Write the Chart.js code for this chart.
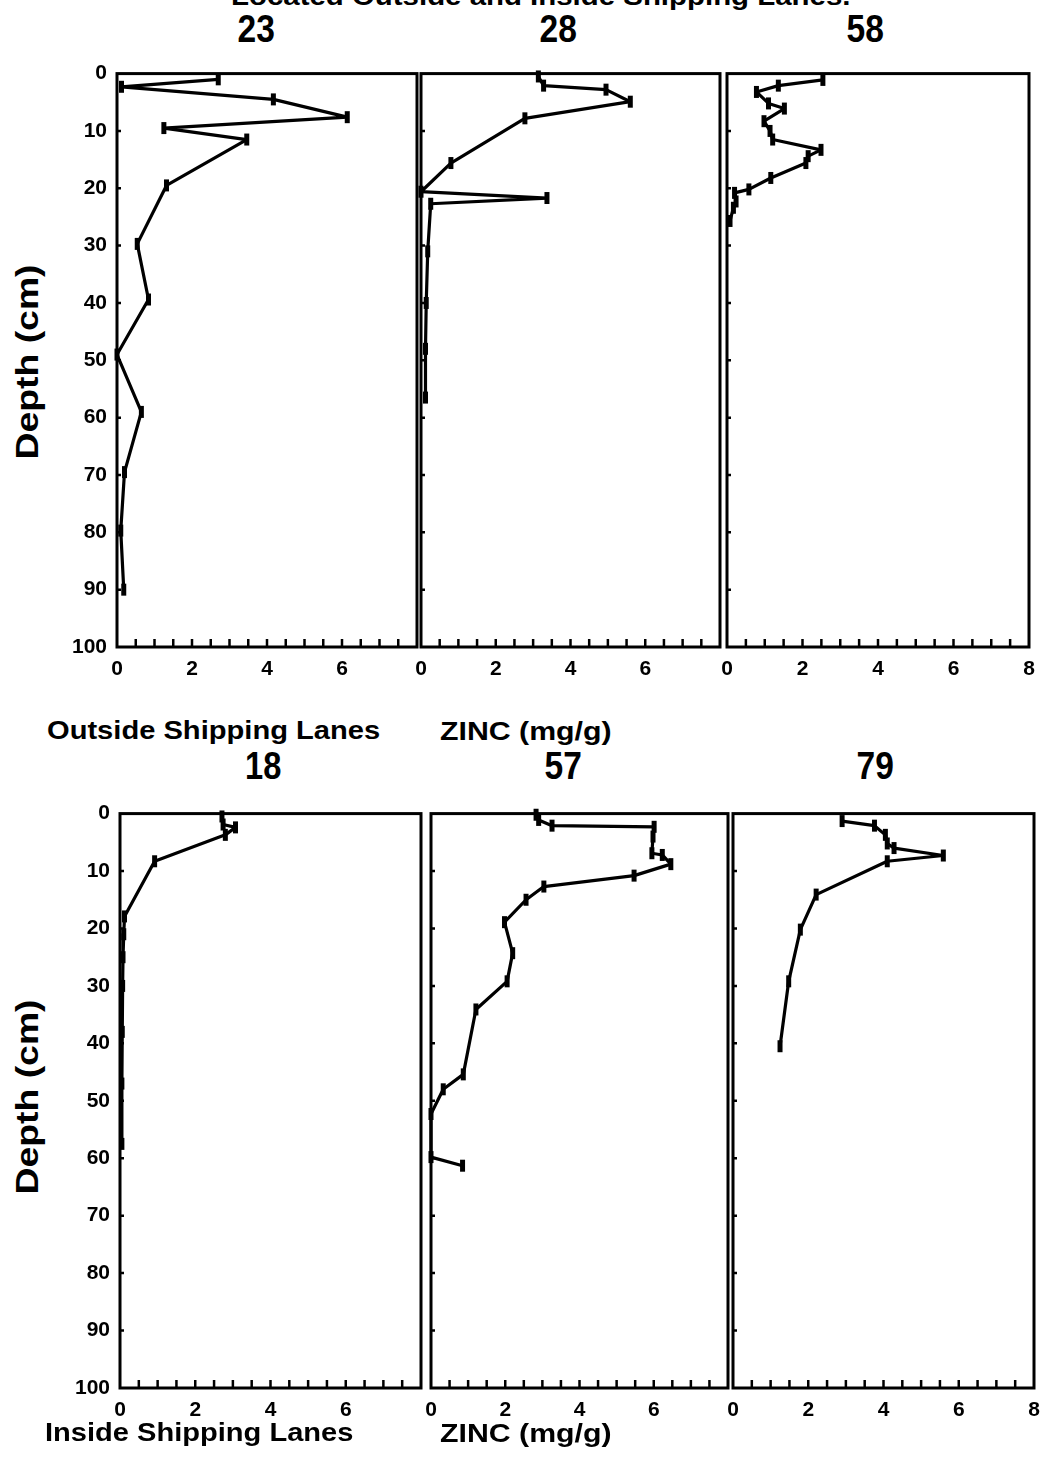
<!DOCTYPE html>
<html><head><meta charset="utf-8">
<script src="https://cdn.jsdelivr.net/npm/chart.js@4/dist/chart.umd.min.js"></script>
<style>
html,body{margin:0;padding:0;background:#fff;}
body{width:1046px;height:1458px;position:relative;overflow:hidden;font-family:"Liberation Sans",Arial,sans-serif;}
.c{position:absolute;}
.t{position:absolute;white-space:nowrap;color:#000;line-height:1;transform-origin:0 0;left:0;top:0;}
</style></head><body>
<script>
// ---- data (depth in cm, zinc in mg/g) ----
const depth23 = [1, 2.3, 4.5, 7.6, 9.5, 11.5, 19.5, 29.7, 39.4, 49, 59, 69.5, 79.7, 90];
const zinc23  = [2.7, 0.12, 4.17, 6.14, 1.25, 3.46, 1.32, 0.54, 0.84, 0, 0.65, 0.2, 0.1, 0.18];
const depth28 = [0.5, 2.1, 2.8, 4.9, 7.8, 15.6, 20.6, 21.7, 22.7, 31, 40, 48, 56.5];
const zinc28  = [3.14, 3.28, 4.95, 5.6, 2.78, 0.8, 0.0, 3.37, 0.26, 0.18, 0.14, 0.12, 0.12];
const depth58 = [1.1, 2.1, 3.2, 5.2, 6.1, 8.3, 10, 11.5, 13.3, 14.4, 15.6, 18.2, 20.2, 20.8, 22.3, 23.4, 25.7];
const zinc58  = [2.54, 1.36, 0.78, 1.10, 1.52, 0.98, 1.14, 1.21, 2.49, 2.15, 2.09, 1.16, 0.58, 0.2, 0.24, 0.17, 0.08];
const depth18 = [0.5, 1.9, 2.4, 3.7, 8.3, 17.9, 21, 25, 30, 38, 47, 57.5];
const zinc18  = [2.71, 2.74, 3.07, 2.8, 0.92, 0.12, 0.1, 0.08, 0.07, 0.06, 0.05, 0.05];
const depth57 = [0.2, 1.1, 2.1, 2.3, 4.0, 6.9, 7.2, 8.8, 10.8, 12.7, 15.0, 18.9, 24.3, 29.2, 34.1, 45.4, 48.0, 52.3, 59.8, 61.3];
const zinc57  = [2.83, 2.9, 3.26, 6.01, 5.98, 5.95, 6.23, 6.46, 5.47, 3.04, 2.56, 1.98, 2.2, 2.05, 1.21, 0.87, 0.33, 0, 0, 0.85];
const depth79 = [1.3, 2.1, 3.7, 5.2, 6.0, 7.3, 8.3, 14.1, 20.2, 29.2, 40.5];
const zinc79  = [2.90, 3.76, 4.05, 4.10, 4.28, 5.59, 4.10, 2.21, 1.79, 1.48, 1.25];
const stations = ['23', '28', '58', '18', '57', '79'];
const xLabelValues = [0, 2, 4, 6, 8];
const depthRange = [0, 100];
const zincRange = [0, 8];

// ---- layout ----
const panels = [
  {name: stations[0], d: depth23, z: zinc23, L: 117, R: 417, T: 71, B: 647, yLab: true, last: false},
  {name: stations[1], d: depth28, z: zinc28, L: 421, R: 720, T: 71, B: 647, yLab: false, last: false},
  {name: stations[2], d: depth58, z: zinc58, L: 727, R: 1029, T: 71, B: 647, yLab: false, last: true},
  {name: stations[3], d: depth18, z: zinc18, L: 120, R: 421, T: 811, B: 1388, yLab: true, last: false},
  {name: stations[4], d: depth57, z: zinc57, L: 431, R: 728, T: 811, B: 1388, yLab: false, last: false},
  {name: stations[5], d: depth79, z: zinc79, L: 733, R: 1034, T: 811, B: 1388, yLab: false, last: true}
];
const PADL = 62, PADR = 20, PADT = 20, PADB = 45;

const framePlugin = {
  id: 'frame',
  afterDatasetsDraw(chart) {
    const {ctx, chartArea: a, scales} = chart;
    ctx.save();
    ctx.strokeStyle = '#000';
    ctx.lineWidth = 3;
    ctx.strokeRect(a.left, a.top, a.right - a.left, a.bottom - a.top);
    ctx.lineWidth = 2.5;
    ctx.beginPath();
    scales.x.ticks.forEach(t => {
      if (t.value <= zincRange[0] || t.value >= zincRange[1]) return;
      const px = scales.x.getPixelForValue(t.value);
      ctx.moveTo(px, a.bottom);
      ctx.lineTo(px, a.bottom - 8);
    });
    scales.y.ticks.forEach(t => {
      if (t.value <= depthRange[0] || t.value >= depthRange[1]) return;
      const py = scales.y.getPixelForValue(t.value);
      ctx.moveTo(a.left, py);
      ctx.lineTo(a.left + 4, py);
    });
    ctx.stroke();
    ctx.restore();
  }
};

panels.forEach(p => {
  const div = document.createElement('div');
  div.className = 'c';
  const w = (p.R + PADR) - (p.L - PADL);
  const h = (p.B + PADB) - (p.T - PADT);
  div.style.left = (p.L - PADL) + 'px';
  div.style.top = (p.T - PADT) + 'px';
  div.style.width = w + 'px';
  div.style.height = h + 'px';
  const cv = document.createElement('canvas');
  div.appendChild(cv);
  document.body.appendChild(div);
  new Chart(cv, {
    type: 'scatter',
    data: {
      datasets: [{
        data: p.d.map((dd, i) => ({x: p.z[i], y: dd})),
        showLine: true,
        borderColor: '#000',
        borderWidth: 3.2,
        borderJoinStyle: 'round',
        borderCapStyle: 'round',
        pointStyle: 'line',
        rotation: 90,
        radius: 6,
        pointBorderWidth: 5,
        pointBackgroundColor: '#000',
        pointBorderColor: '#000',
        clip: false
      }]
    },
    options: {
      responsive: true,
      maintainAspectRatio: false,
      animation: false,
      events: [],
      layout: {padding: {left: 0, right: PADR, top: PADT, bottom: 0}},
      plugins: {legend: {display: false}, tooltip: {enabled: false}},
      scales: {
        x: {
          type: 'linear', min: zincRange[0], max: zincRange[1],
          grid: {display: false, drawTicks: false},
          border: {display: false},
          afterFit(s) { s.height = PADB; },
          ticks: {
            stepSize: 0.5, autoSkip: false, maxRotation: 0, padding: 10,
            color: '#000', font: {family: 'Liberation Sans', size: 21, weight: 'bold'},
            callback: v => (xLabelValues.includes(v) && (v !== 8 || p.last)) ? String(v) : ''
          }
        },
        y: {
          type: 'linear', min: depthRange[0], max: depthRange[1], reverse: true,
          grid: {display: false, drawTicks: false},
          border: {display: false},
          afterFit(s) { s.width = PADL; },
          ticks: {
            stepSize: 10, autoSkip: false, padding: 10,
            color: '#000', font: {family: 'Liberation Sans', size: 21, weight: 'bold'},
            callback: v => p.yLab ? String(v) : ''
          }
        }
      }
    },
    plugins: [framePlugin]
  });
});

// ---- text ----
function addText(txt, opt) {
  const el = document.createElement('div');
  el.className = 't';
  el.textContent = txt;
  el.style.fontSize = opt.size + 'px';
  el.style.fontWeight = opt.bold ? 'bold' : 'normal';
  if (opt.family) el.style.fontFamily = opt.family;
  document.body.appendChild(el);
  const nat = el.offsetWidth;
  const k = opt.width ? opt.width / nat : 1;
  if (opt.rotate) {
    el.style.transform = `translate(${opt.cx}px,${opt.cy}px) rotate(-90deg) scale(${k},1) translate(-50%,-50%)`;
  } else {
    const top = opt.base - 0.8465 * opt.size;
    const left = opt.cx !== undefined ? opt.cx - nat * k / 2 : opt.x;
    el.style.transform = `translate(${left}px,${top}px) scale(${k},1)`;
  }
}
addText('Located Outside and Inside Shipping Lanes.', {size: 26, bold: true, x: 231, base: 5, width: 620});
addText(stations[0], {size: 39, bold: true, cx: 256, base: 42, width: 37});
addText(stations[1], {size: 39, bold: true, cx: 558, base: 42, width: 37});
addText(stations[2], {size: 39, bold: true, cx: 865, base: 42, width: 37});
addText(stations[3], {size: 39, bold: true, cx: 263, base: 779, width: 36});
addText(stations[4], {size: 39, bold: true, cx: 563, base: 779, width: 37});
addText(stations[5], {size: 39, bold: true, cx: 875, base: 779, width: 37});
addText('Outside Shipping Lanes', {size: 25, bold: true, x: 47, base: 739, width: 333});
addText('ZINC (mg/g)', {size: 25, bold: true, x: 440, base: 740, width: 172});
addText('Inside Shipping Lanes', {size: 25, bold: true, x: 45, base: 1441, width: 308});
addText('ZINC (mg/g)', {size: 25, bold: true, x: 440, base: 1442, width: 172});
addText('Depth (cm)', {size: 32, bold: true, rotate: true, cx: 27, cy: 362, width: 195});
addText('Depth (cm)', {size: 32, bold: true, rotate: true, cx: 27, cy: 1097, width: 195});
</script>
</body></html>
